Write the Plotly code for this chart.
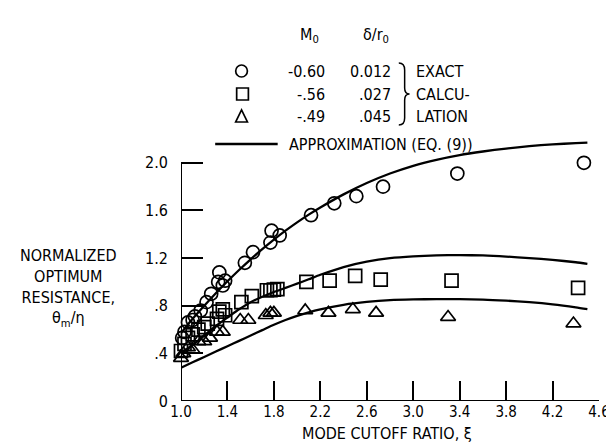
import plotly.graph_objects as go

# ---- data ----
circ_xi = [1.01, 1.03, 1.06, 1.10, 1.12, 1.17, 1.22, 1.26, 1.32, 1.33, 1.36, 1.38,
           1.55, 1.62, 1.77, 1.78, 1.85, 2.12, 2.32, 2.51, 2.74, 3.38, 4.47]
circ_val = [0.53, 0.58, 0.66, 0.68, 0.71, 0.76, 0.83, 0.90, 1.00, 1.08, 0.97, 1.01,
            1.16, 1.25, 1.33, 1.43, 1.39, 1.56, 1.66, 1.72, 1.80, 1.91, 2.00]

sq_xi = [1.00, 1.03, 1.06, 1.10, 1.15, 1.20, 1.23, 1.31, 1.33, 1.36, 1.38, 1.52,
         1.61, 1.74, 1.77, 1.80, 1.83, 2.08, 2.28, 2.50, 2.72, 3.33, 4.42]
sq_val = [0.42, 0.48, 0.53, 0.56, 0.60, 0.62, 0.65, 0.69, 0.75, 0.77, 0.72, 0.83,
          0.88, 0.93, 0.93, 0.935, 0.94, 1.00, 1.01, 1.05, 1.02, 1.01, 0.95]

tri_xi = [1.00, 1.02, 1.06, 1.10, 1.15, 1.20, 1.25, 1.31, 1.36, 1.51, 1.58,
          1.73, 1.77, 1.80, 2.07, 2.27, 2.48, 2.68, 3.30, 4.38]
tri_val = [0.36, 0.40, 0.45, 0.43, 0.50, 0.50, 0.53, 0.58, 0.58, 0.68, 0.68,
           0.72, 0.74, 0.74, 0.76, 0.74, 0.77, 0.74, 0.705, 0.65]

curve_xi = [1.0, 1.1, 1.2, 1.3, 1.4, 1.5, 1.6, 1.7, 1.8, 1.9, 2.0, 2.1, 2.2, 2.4,
            2.6, 2.8, 3.0, 3.2, 3.4, 3.6, 3.8, 4.0, 4.2, 4.4, 4.5]
curve_upper = [0.57, 0.69, 0.80, 0.905, 1.005, 1.10, 1.19, 1.275, 1.355, 1.43, 1.50, 1.565,
               1.625, 1.735, 1.83, 1.91, 1.975, 2.025, 2.065, 2.095, 2.12, 2.14, 2.155, 2.165, 2.17]
curve_mid = [0.40, 0.47, 0.55, 0.63, 0.70, 0.77, 0.83, 0.875, 0.915, 0.95, 0.985, 1.022,
             1.06, 1.125, 1.17, 1.20, 1.215, 1.223, 1.225, 1.222, 1.213, 1.20, 1.185, 1.165, 1.152]
curve_lower = [0.28, 0.325, 0.37, 0.415, 0.46, 0.505, 0.55, 0.595, 0.64, 0.68, 0.715, 0.745,
               0.77, 0.808, 0.832, 0.847, 0.853, 0.855, 0.855, 0.852, 0.843, 0.83, 0.812, 0.787, 0.772]

x_ticks = [1.0, 1.4, 1.8, 2.2, 2.6, 3.0, 3.4, 3.8, 4.2, 4.6]
x_ticktext = ["1.0", "1.4", "1.8", "2.2", "2.6", "3.0", "3.4", "3.8", "4.2", "4.6"]
y_ticks = [0, 0.4, 0.8, 1.2, 1.6, 2.0]
y_ticktext = ["0", ".4", ".8", "1.2", "1.6", "2.0"]

legend_m0 = ["-0.60", "-.56", "-.49"]
legend_delta = ["0.012", ".027", ".045"]
legend_word = ["EXACT", "CALCU-", "LATION"]

# ---- layout geometry ----
W, H = 614, 442
ML, MR, MT, MB = 173, 13, 131, 49
PW, PH = W - ML - MR, H - MT - MB
FONT = "DejaVu Sans Condensed, Liberation Sans Narrow, DejaVu Sans, sans-serif"
FS = 16


def px(x):
    return (x - ML) / PW


def py(y):
    return (H - MB - y) / PH


fig = go.Figure()

for yv in (curve_upper, curve_mid, curve_lower):
    fig.add_trace(go.Scatter(x=curve_xi, y=yv, mode="lines",
                             line=dict(color="black", width=2.3, shape="spline", smoothing=0.6),
                             showlegend=False, hoverinfo="skip"))

mk = dict(color="black", size=13, line=dict(color="black", width=1.7))
fig.add_trace(go.Scatter(x=circ_xi, y=circ_val, mode="markers",
                         marker=dict(symbol="circle-open", **mk), cliponaxis=False, showlegend=False))
fig.add_trace(go.Scatter(x=sq_xi, y=sq_val, mode="markers",
                         marker=dict(symbol="square-open", **mk), cliponaxis=False, showlegend=False))
fig.add_trace(go.Scatter(x=tri_xi, y=tri_val, mode="markers",
                         marker=dict(symbol="triangle-up-open", **mk), cliponaxis=False, showlegend=False))

shapes = [
    # axis lines
    dict(type="line", xref="x", yref="y", x0=1.0, x1=1.0, y0=0, y1=2.0,
         line=dict(color="black", width=2)),
    dict(type="line", xref="x", yref="y", x0=1.0, x1=4.6, y0=0, y1=0,
         line=dict(color="black", width=2)),
    # legend symbols
    dict(type="circle", xref="paper", yref="paper", x0=px(229), x1=px(241), y0=py(57), y1=py(69),
         line=dict(color="black", width=1.7)),
    dict(type="rect", xref="paper", yref="paper", x0=px(230), x1=px(242), y0=py(80), y1=py(92),
         line=dict(color="black", width=1.7)),
    dict(type="path", xref="paper", yref="paper",
         path=f"M {px(229)} {py(114)} L {px(241)} {py(114)} L {px(235)} {py(102)} Z",
         line=dict(color="black", width=1.7)),
    # legend line
    dict(type="line", xref="paper", yref="paper", x0=px(208), x1=px(272), y0=py(136), y1=py(136),
         line=dict(color="black", width=2.3)),
    # brace
    dict(type="path", xref="paper", yref="paper",
         path=(f"M {px(396)} {py(55)} Q {px(402)} {py(55)} {px(402)} {py(62)} "
               f"L {px(402)} {py(80)} Q {px(402)} {py(86)} {px(407)} {py(86)} "
               f"Q {px(402)} {py(86)} {px(402)} {py(92)} L {px(402)} {py(110)} "
               f"Q {px(402)} {py(117)} {px(396)} {py(117)}"),
         line=dict(color="black", width=1.5)),
]

ann = []


def txt(text, x, y, xanchor="center", size=FS):
    ann.append(dict(text=text, x=px(x), y=py(y), xref="paper", yref="paper",
                    xanchor=xanchor, yanchor="middle", showarrow=False,
                    font=dict(family=FONT, size=size, color="black")))


txt("M<sub>0</sub>", 305, 27)
txt("δ/r<sub>0</sub>", 373, 27)
for i, yy in enumerate((63, 86, 108)):
    txt(legend_m0[i], 322, yy, "right")
    txt(legend_delta[i], 390, yy, "right")
    txt(legend_word[i], 412, yy, "left")
txt("APPROXIMATION (EQ. (9))", 282, 136, "left")
txt("NORMALIZED<br>OPTIMUM<br>RESISTANCE,<br>θ<sub>m</sub>/η", 58, 280)
txt("MODE CUTOFF RATIO, ξ", 384, 425)

fig.update_layout(
    width=W, height=H,
    margin=dict(l=ML, r=MR, t=MT, b=MB, pad=0),
    paper_bgcolor="white", plot_bgcolor="white",
    shapes=shapes, annotations=ann,
    font=dict(family=FONT, size=FS, color="black"),
    xaxis=dict(range=[1.0, 4.6], tickvals=x_ticks, ticktext=x_ticktext,
               ticks="inside", ticklen=20, tickwidth=2, tickcolor="black",
               showgrid=False, zeroline=False, showline=False,
               ticklabelstandoff=0, tickfont=dict(family=FONT, size=15)),
    yaxis=dict(range=[0, 2.2], tickvals=y_ticks, ticktext=y_ticktext,
               ticks="inside", ticklen=22, tickwidth=2, tickcolor="black",
               showgrid=False, zeroline=False, showline=False,
               ticklabelstandoff=12, tickfont=dict(family=FONT, size=FS)),
)

fig.write_html("out.html")
